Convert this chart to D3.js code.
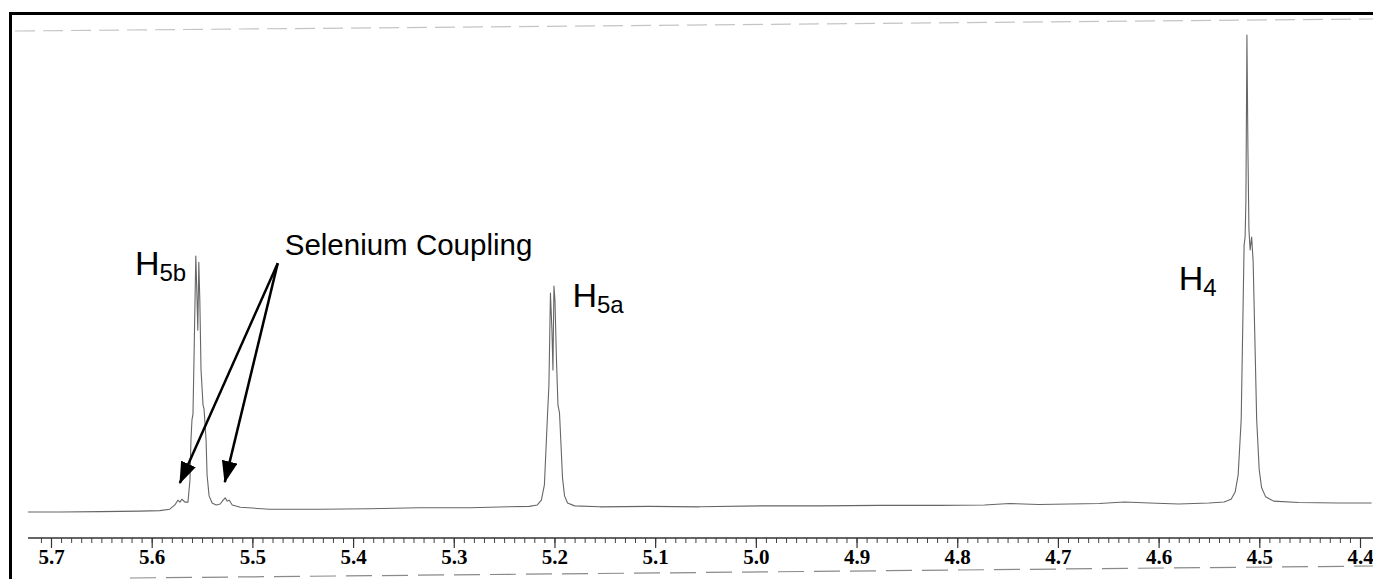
<!DOCTYPE html>
<html>
<head>
<meta charset="utf-8">
<script src="https://cdn.jsdelivr.net/npm/d3@7"></script>
<style>
  body { margin: 0; background: #fff; }
  svg { display: block; }
</style>
</head>
<body>
<script>
// spectrum trace: [ppm, intensity] (baseline ~0, H4 top ~100)
let trace = [
  [5.723, 0.2], [5.691, 0.2], [5.651, 0.3], [5.612, 0.4], [5.592, 0.5], [5.582, 0.8],
  [5.577, 1.7], [5.574, 2.7], [5.572, 2.3], [5.570, 2.9], [5.567, 2.3], [5.564, 2.3],
  [5.562, 6.9], [5.561, 15.4], [5.560, 19.6], [5.559, 20.8], [5.558, 32.2], [5.5562, 54.1],
  [5.5552, 46.9], [5.5542, 38.5], [5.5532, 52.8], [5.5522, 44.8], [5.551, 30.1], [5.549, 22.7],
  [5.548, 21.9], [5.546, 15.4], [5.545, 8.0], [5.543, 3.6], [5.540, 2.1], [5.536, 1.7],
  [5.532, 1.9], [5.529, 2.7], [5.527, 3.2], [5.525, 2.5], [5.523, 2.7], [5.520, 1.7],
  [5.512, 1.2], [5.483, 0.8], [5.433, 0.8], [5.384, 0.9], [5.334, 1.1], [5.284, 1.1],
  [5.245, 1.3], [5.225, 1.4], [5.217, 1.7], [5.213, 2.7], [5.210, 5.9], [5.208, 15.4],
  [5.207, 20.2], [5.2055, 26.9], [5.204, 46.3], [5.2025, 38.5], [5.2015, 30.1], [5.2005, 47.8],
  [5.1995, 44.8], [5.198, 32.2], [5.1965, 22.7], [5.195, 21.1], [5.1935, 14.3], [5.192, 7.4],
  [5.190, 3.6], [5.187, 2.1], [5.180, 1.5], [5.155, 1.3], [5.106, 1.4], [5.056, 1.3],
  [4.996, 1.5], [4.937, 1.5], [4.877, 1.6], [4.818, 1.6], [4.773, 1.7], [4.748, 2.0],
  [4.719, 1.8], [4.689, 1.9], [4.659, 2.0], [4.634, 2.3], [4.609, 2.1], [4.580, 1.9],
  [4.550, 2.1], [4.535, 2.3], [4.528, 2.9], [4.524, 4.4], [4.521, 8.0], [4.518, 19.6],
  [4.5165, 38.5], [4.5151, 56.4], [4.5141, 58.1], [4.5133, 65.9], [4.5123, 100.6], [4.5113, 76.4],
  [4.5103, 59.6], [4.5091, 55.4], [4.5076, 58.1], [4.5061, 52.8], [4.5046, 38.5], [4.5026, 19.6],
  [4.5001, 9.1], [4.4977, 5.3], [4.4937, 3.4], [4.4858, 2.5], [4.461, 2.2], [4.4213, 2.1],
  [4.3885, 2.1]
];

let majorTicks = [5.7, 5.6, 5.5, 5.4, 5.3, 5.2, 5.1, 5.0, 4.9, 4.8, 4.7, 4.6, 4.5, 4.4];

// peak labels: main text, subscript, position in ppm / intensity
let peakLabels = [
  { main: "H", sub: "5b", ppm: 5.6167, inten: 50.1 },
  { main: "H", sub: "5a", ppm: 5.1822, inten: 43.4 },
  { main: "H", sub: "4", ppm: 4.580, inten: 46.9 }
];
let couplingLabel = { text: "Selenium Coupling", ppm: 5.4679, inten: 54.3 };
let arrowFrom = [5.4748, 52.6];
let arrowTips = [[5.572, 6.3], [5.5274, 6.5]];

let width = 1373, height = 579;
let axisY = 538;

let svg = d3.select("body").append("svg")
  .attr("width", width)
  .attr("height", height);

let x = d3.scaleLinear().domain([5.7, 4.4]).range([51, 1360]);
let y = d3.scaleLinear().domain([0, 100]).range([513, 38]);

// scan artifacts: faint dashed lines top and bottom
svg.append("line")
  .attr("x1", 15).attr("y1", 31).attr("x2", 1373).attr("y2", 19)
  .attr("stroke", "#c4c4c4").attr("stroke-width", 1.2)
  .attr("stroke-dasharray", "20,8");
svg.append("line")
  .attr("x1", 130).attr("y1", 578).attr("x2", 1373).attr("y2", 566)
  .attr("stroke", "#8a8a8a").attr("stroke-width", 1.2)
  .attr("stroke-dasharray", "26,10");

// frame (left and top edges visible)
svg.append("path")
  .attr("d", "M10.5,579 V13.5 H1373")
  .attr("fill", "none")
  .attr("stroke", "#000")
  .attr("stroke-width", 3);

// spectrum
let line = d3.line()
  .x(function(d) { return x(d[0]); })
  .y(function(d) { return y(d[1]); });

svg.append("path")
  .datum(trace)
  .attr("d", line)
  .attr("fill", "none")
  .attr("stroke", "#666")
  .attr("stroke-width", 1.1)
  .attr("stroke-linejoin", "round");

// ppm axis: minor ticks every 0.01, major every 0.1
let minorTicks = d3.range(0, 132).map(function(i) { return +(5.71 - i * 0.01).toFixed(2); });

svg.append("g")
  .attr("transform", "translate(0," + axisY + ")")
  .call(d3.axisBottom(x).tickValues(minorTicks).tickSize(5).tickFormat(""))
  .call(function(g) {
    g.select(".domain").remove();
    g.selectAll("line").attr("stroke", "#444").attr("stroke-width", 1);
  });

let xAxis = svg.append("g")
  .attr("transform", "translate(0," + axisY + ")")
  .call(d3.axisBottom(x).tickValues(majorTicks).tickSize(10).tickFormat(d3.format(".1f")));

xAxis.select(".domain").remove();
xAxis.selectAll(".tick line").attr("stroke", "#333").attr("stroke-width", 1.2);
xAxis.selectAll(".tick text")
  .attr("y", 11)
  .attr("dy", "0.71em")
  .attr("fill", "#000")
  .attr("font-family", "'Liberation Serif', 'Times New Roman', serif")
  .attr("font-weight", "bold")
  .attr("font-size", "21px");

svg.append("line")
  .attr("x1", 28).attr("x2", 1373)
  .attr("y1", axisY).attr("y2", axisY)
  .attr("stroke", "#333")
  .attr("stroke-width", 1.5);

// peak labels
peakLabels.forEach(function(p) {
  let t = svg.append("text")
    .attr("x", x(p.ppm))
    .attr("y", y(p.inten))
    .attr("font-family", "'Liberation Sans', Arial, sans-serif")
    .attr("font-size", "34px")
    .attr("fill", "#000");
  t.append("tspan").text(p.main);
  t.append("tspan").text(p.sub).attr("font-size", "24px").attr("dy", 6);
});

svg.append("text")
  .attr("x", x(couplingLabel.ppm))
  .attr("y", y(couplingLabel.inten))
  .attr("font-family", "'Liberation Sans', Arial, sans-serif")
  .attr("font-size", "29.5px")
  .attr("fill", "#000")
  .text(couplingLabel.text);

// arrows
svg.append("defs").append("marker")
  .attr("id", "head")
  .attr("viewBox", "0 0 22 16")
  .attr("refX", 21).attr("refY", 8)
  .attr("markerWidth", 22).attr("markerHeight", 16)
  .attr("markerUnits", "userSpaceOnUse")
  .attr("orient", "auto")
  .append("path")
  .attr("d", "M0,0 L22,8 L0,16 Z")
  .attr("fill", "#000");

arrowTips.forEach(function(t) {
  svg.append("line")
    .attr("x1", x(arrowFrom[0])).attr("y1", y(arrowFrom[1]))
    .attr("x2", x(t[0])).attr("y2", y(t[1]))
    .attr("stroke", "#000")
    .attr("stroke-width", 2.5)
    .attr("marker-end", "url(#head)");
});
</script>
</body>
</html>
